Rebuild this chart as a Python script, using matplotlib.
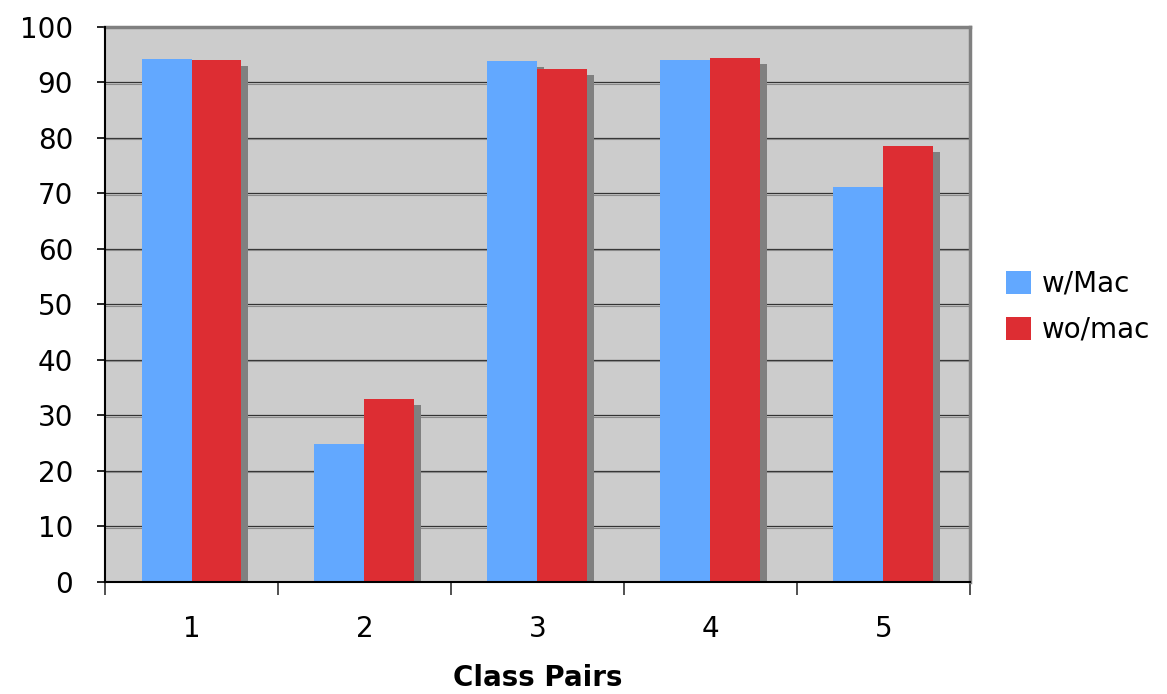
import numpy as np
import matplotlib.pyplot as plt
import matplotlib.transforms as mtransforms

# Values
categories = ["1", "2", "3", "4", "5"]
w_mac = [94.2, 24.9, 93.9, 94.1, 71.2]
wo_mac = [94.0, 33.0, 92.4, 94.4, 78.6]
series_names = ["w/Mac", "wo/mac"]
y_ticks = [0, 10, 20, 30, 40, 50, 60, 70, 80, 90, 100]

blue = "#62a8ff"
red = "#dd2d33"
shadow = "#808080"
plot_bg = "#cccccc"

fig = plt.figure(figsize=(11.67, 6.94), dpi=100)
ax = fig.add_axes([0.09, 0.1614, 0.741, 0.7997])
ax.set_facecolor(plot_bg)

x = np.arange(len(categories))
width = 0.289

# drop shadows, offset a few pixels right and down
shadow_tr = mtransforms.offset_copy(ax.transData, fig=fig, x=7, y=-6, units="dots")
for vals, off in [(w_mac, -width / 2), (wo_mac, width / 2)]:
    ax.bar(x + off, vals, width, color=shadow, transform=shadow_tr, zorder=2)

ax.bar(x - width / 2, w_mac, width, color=blue, label=series_names[0], zorder=3)
ax.bar(x + width / 2, wo_mac, width, color=red, label=series_names[1], zorder=3)

# gridlines with a light shadow underneath
for t in y_ticks[1:-1]:
    ax.axhline(t, color="#333333", lw=0.9, zorder=1)
    ax.axhline(t - 0.2, color="#8a8a8a", lw=0.8, zorder=1)

ax.set_xlim(-0.5, len(categories) - 0.5)
ax.set_ylim(0, 100)
ax.set_yticks(y_ticks)
ax.tick_params(axis="y", labelsize=20, length=6, width=1.2, direction="out", pad=17)

# category boundaries get ticks, labels sit at centres
ax.set_xticks(np.arange(len(categories) + 1) - 0.5)
ax.set_xticklabels([])
ax.set_xticks(x, minor=True)
ax.set_xticklabels(categories, minor=True)
ax.tick_params(axis="x", which="major", length=9, width=1.2, color="#333333")
ax.tick_params(axis="x", which="minor", length=0, labelsize=20, pad=24)

for side in ["top", "right"]:
    ax.spines[side].set_color(shadow)
    ax.spines[side].set_linewidth(2.5)
for side in ["left", "bottom"]:
    ax.spines[side].set_color("black")
    ax.spines[side].set_linewidth(1.5)
    ax.spines[side].set_zorder(4)

ax.set_xlabel("Class Pairs", fontsize=20, fontweight="bold", labelpad=15)

ax.legend(loc="center left", bbox_to_anchor=(0.841, 0.558), bbox_transform=fig.transFigure,
          frameon=False, fontsize=20, handlelength=0.9, handleheight=0.9,
          handletextpad=0.36, labelspacing=0.65)

plt.savefig("out.png", dpi=100)
